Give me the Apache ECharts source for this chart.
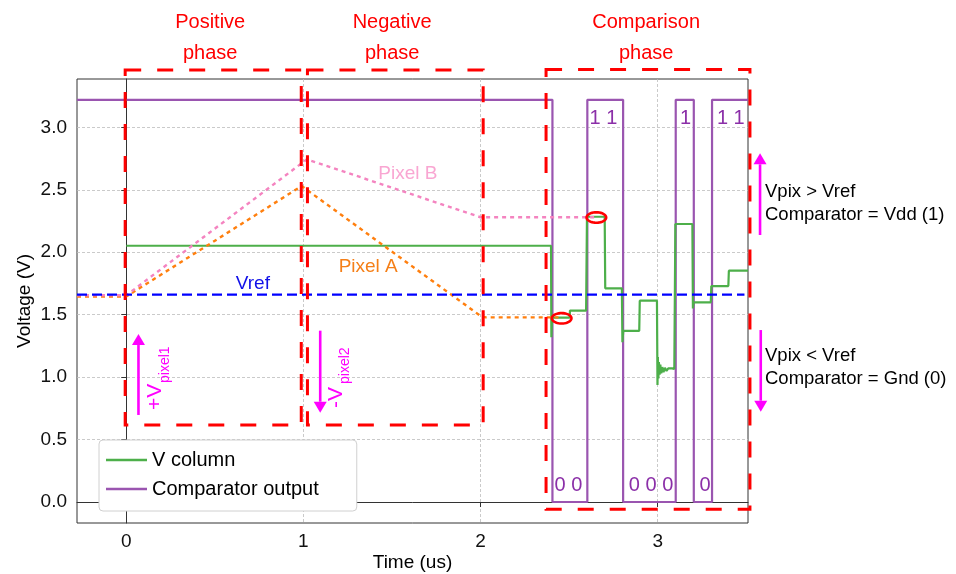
<!DOCTYPE html>
<html>
<head>
<meta charset="utf-8">
<script src="https://cdn.jsdelivr.net/npm/echarts@6.0.0/dist/echarts.min.js"></script>
<style>
html, body { margin: 0; padding: 0; background: #fff; }
#chart { width: 956px; height: 574px; }
</style>
</head>
<body>
<div id="chart"></div>
<script>
var FONT = "'Liberation Sans', Arial, sans-serif";

// axis ranges and ticks
var xRange = [-0.278, 3.51];
var yRange = [-0.168, 3.387];
var xTicks = [0, 1, 2, 3];
var yTicks = [0, 0.5, 1.0, 1.5, 2.0, 2.5, 3.0];

// traces: [time (us), voltage (V)]
var vColumn = [
  [0.0, 2.052], [2.398, 2.052], [2.400, 1.32], [2.404, 1.476], [2.503, 1.476],
  [2.505, 1.532], [2.596, 1.532], [2.601, 2.284], [2.701, 2.284], [2.704, 1.711],
  [2.798, 1.711], [2.801, 1.28], [2.806, 1.371], [2.896, 1.371], [2.899, 1.612],
  [2.996, 1.612], [2.999, 0.937], [3.001, 1.16], [3.004, 0.99], [3.007, 1.12],
  [3.011, 1.02], [3.015, 1.10], [3.020, 1.03], [3.026, 1.08], [3.033, 1.04],
  [3.041, 1.075], [3.050, 1.05], [3.060, 1.07], [3.070, 1.055], [3.082, 1.07],
  [3.094, 1.065], [3.100, 2.226], [3.196, 2.226], [3.199, 1.55], [3.203, 1.599],
  [3.300, 1.599], [3.303, 1.729], [3.399, 1.729], [3.402, 1.852], [3.51, 1.852]
];
var comparatorOut = [
  [-0.278, 3.22], [2.406, 3.22], [2.406, 0], [2.603, 0], [2.603, 3.22],
  [2.805, 3.22], [2.805, 0], [3.102, 0], [3.102, 3.22], [3.204, 3.22],
  [3.204, 0], [3.307, 0], [3.307, 3.22], [3.51, 3.22]
];
var pixelA = [[-0.278, 1.645], [0.0, 1.645], [0.99, 2.53], [2.0, 1.49], [2.03, 1.478], [2.44, 1.478]];
var pixelB = [[-0.278, 1.655], [0.0, 1.655], [1.02, 2.744], [2.0, 2.28], [2.66, 2.28]];
var vref = [[-0.278, 1.66], [3.49, 1.66]];

// annotations
var phaseBoxes = [[-0.006, 0.617, 0.988, 3.459], [1.023, 0.617, 2.015, 3.459], [2.370, -0.058, 3.521, 3.464]];
var phaseNames = ['Positive\nphase', 'Negative\nphase', 'Comparison\nphase'];
var phaseNamePos = [[0.474, 3.715], [1.501, 3.715], [2.935, 3.715]];
var traceLabels = ['Pixel B', 'Pixel A', 'Vref'];
var traceLabelPos = [[1.59, 2.63], [1.366, 1.884], [0.715, 1.745]];
var traceLabelColors = ['#f9a6d2', '#f57f17', '#1010e8'];
var bitLabels = ['0 0', '1 1', '0 0 0', '1', '0', '1 1'];
var bitLabelPos = [[2.496, 0.136], [2.694, 3.072], [2.963, 0.136], [3.158, 3.072], [3.268, 0.136], [3.413, 3.072]];
var sideNotes = ['Vpix > Vref\nComparator = Vdd (1)', 'Vpix < Vref\nComparator = Gnd (0)'];
var sideNotePos = [[3.606, 2.391], [3.606, 1.075]];
var arrows = [[0.069, 0.697, 1.345], [1.095, 1.372, 0.715], [3.578, 2.138, 2.792], [3.582, 1.377, 0.723]];
var deltaMain = ['+V', '-V'];
var deltaSub = ['pixel1', 'pixel2'];
var deltaPos = [[0.166, 0.737], [1.187, 0.753]];
var deltaSubShift = [27, 24];
var rings = [[2.458, 1.471], [2.654, 2.278]];

var myChart = echarts.init(document.getElementById('chart'));

function textLayer(positions, texts, style) {
  return {
    type: 'custom', coordinateSystem: 'cartesian2d', clip: false, silent: true, z: 10,
    data: positions,
    renderItem: function (params, api) {
      var p = api.coord([api.value(0), api.value(1)]);
      var s = Object.assign({
        text: texts[params.dataIndex], fontFamily: FONT,
        align: 'center', verticalAlign: 'middle'
      }, typeof style === 'function' ? style(params.dataIndex) : style);
      return { type: 'text', x: p[0], y: p[1], style: s };
    }
  };
}

var option = {
  animation: false,
  backgroundColor: '#fff',
  grid: {
    left: 77, right: 208, top: 79, bottom: 51,
    show: true, borderColor: '#333', borderWidth: 1,
    outerBoundsMode: 'none'
  },
  legend: {
    data: [{ name: 'V column', icon: 'rect' }, { name: 'Comparator output', icon: 'rect' }],
    orient: 'vertical', left: 99, top: 440,
    padding: [10, 38, 12, 7],
    itemWidth: 41, itemHeight: 2.4, itemGap: 9, itemTextGap: 15,
    backgroundColor: '#fff', borderColor: '#d0d0d0', borderWidth: 1, borderRadius: 4,
    textStyle: { fontFamily: FONT, fontSize: 20, color: '#000', lineHeight: 19 }
  },
  xAxis: {
    type: 'value', min: xRange[0], max: xRange[1], minInterval: 1, maxInterval: 1,
    name: 'Time (us)', nameLocation: 'middle', nameGap: 30, nameMoveOverlap: false,
    nameTextStyle: { fontFamily: FONT, fontSize: 19, color: '#000' },
    axisLine: { show: true, lineStyle: { color: '#333', width: 1 } },
    axisTick: { show: true, inside: false, length: 5, customValues: xTicks, lineStyle: { color: '#333' } },
    axisLabel: { customValues: xTicks, margin: 9, fontFamily: FONT, fontSize: 19, color: '#111',
      formatter: function (v) { return String(v); } },
    splitLine: { show: true, lineStyle: { color: '#bdbdbd', width: 0.8, type: [3, 2] } }
  },
  yAxis: {
    type: 'value', min: yRange[0], max: yRange[1], minInterval: 0.5, maxInterval: 0.5,
    name: 'Voltage (V)', nameLocation: 'middle', nameGap: 43, nameMoveOverlap: false,
    nameTextStyle: { fontFamily: FONT, fontSize: 19, color: '#000' },
    axisLine: { show: true, lineStyle: { color: '#333', width: 1 } },
    axisTick: { show: true, inside: false, length: 5, customValues: yTicks, lineStyle: { color: '#333' } },
    axisLabel: { customValues: yTicks, margin: 10, fontFamily: FONT, fontSize: 19, color: '#111',
      formatter: function (v) { return v.toFixed(1); } },
    splitLine: { show: true, lineStyle: { color: '#bdbdbd', width: 0.8, type: [3, 2] } }
  },
  series: [
    {
      name: 'Comparator output', type: 'line', data: comparatorOut,
      symbol: 'none', z: 2,
      lineStyle: { color: '#9a55b0', width: 2.2 }, itemStyle: { color: '#9a55b0' }
    },
    {
      name: 'V column', type: 'line', data: vColumn,
      symbol: 'none', z: 3,
      lineStyle: { color: '#4daf4a', width: 2.2 }, itemStyle: { color: '#4daf4a' }
    },
    {
      name: 'Pixel A', type: 'line', data: pixelA, symbol: 'none', z: 4,
      lineStyle: { color: '#ff7f0e', width: 2.4, type: [4, 4] }
    },
    {
      name: 'Pixel B', type: 'line', data: pixelB, symbol: 'none', z: 4,
      lineStyle: { color: '#f484c0', width: 2.4, type: [4, 4] }
    },
    {
      name: 'Vref', type: 'line', data: vref, symbol: 'none', z: 4,
      lineStyle: { color: '#0000ff', width: 2.2, type: [10, 5] }
    },
    {
      // phase boxes
      type: 'custom', coordinateSystem: 'cartesian2d', clip: false, silent: true, z: 8,
      data: phaseBoxes,
      renderItem: function (params, api) {
        var a = api.coord([api.value(0), api.value(3)]);
        var b = api.coord([api.value(2), api.value(1)]);
        return {
          type: 'rect',
          shape: { x: a[0], y: a[1], width: b[0] - a[0], height: b[1] - a[1] },
          style: { fill: 'none', stroke: '#ff0000', lineWidth: 3, lineDash: [16, 16] }
        };
      }
    },
    {
      // red rings around the sampled values
      type: 'custom', coordinateSystem: 'cartesian2d', clip: false, silent: true, z: 9,
      data: rings,
      renderItem: function (params, api) {
        var c = api.coord([api.value(0), api.value(1)]);
        var pts = [];
        for (var i = 0; i < 40; i++) {
          var t = i / 40 * Math.PI * 2;
          pts.push([c[0] + 9.8 * Math.cos(t), c[1] + 5.2 * Math.sin(t)]);
        }
        return { type: 'polygon', shape: { points: pts },
          style: { fill: 'none', stroke: '#ff0000', lineWidth: 2.6 } };
      }
    },
    {
      // magenta arrows
      type: 'custom', coordinateSystem: 'cartesian2d', clip: false, silent: true, z: 9,
      data: arrows,
      renderItem: function (params, api) {
        var s = api.coord([api.value(0), api.value(1)]);
        var e = api.coord([api.value(0), api.value(2)]);
        var dir = e[1] > s[1] ? 1 : -1;
        var headLen = 11, half = 6.5;
        var baseY = e[1] - dir * headLen;
        return {
          type: 'group',
          children: [
            { type: 'line', shape: { x1: s[0], y1: s[1], x2: e[0], y2: baseY },
              style: { stroke: '#ff00ff', lineWidth: 2.6 } },
            { type: 'polygon', shape: { points: [[e[0], e[1]], [e[0] - half, baseY], [e[0] + half, baseY]] },
              style: { fill: '#ff00ff' } }
          ]
        };
      }
    },
    {
      // rotated +V_pixel1 / -V_pixel2 labels
      type: 'custom', coordinateSystem: 'cartesian2d', clip: false, silent: true, z: 10,
      data: deltaPos,
      renderItem: function (params, api) {
        var p = api.coord([api.value(0), api.value(1)]);
        var i = params.dataIndex;
        return {
          type: 'group', x: p[0], y: p[1], rotation: Math.PI / 2,
          children: [
            { type: 'text', x: 0, y: 0, style: { text: deltaMain[i], fontFamily: FONT, fontSize: 21,
              fill: '#ff00ff', align: 'left', verticalAlign: 'middle' } },
            { type: 'text', x: deltaSubShift[i], y: 9, style: { text: deltaSub[i], fontFamily: FONT, fontSize: 14,
              fill: '#ff00ff', align: 'left', verticalAlign: 'middle' } }
          ]
        };
      }
    },
    textLayer(phaseNamePos, phaseNames, { fontSize: 20, fill: '#ff0000', lineHeight: 31 }),
    textLayer(traceLabelPos, traceLabels, function (i) { return { fontSize: 19, fill: traceLabelColors[i] }; }),
    textLayer(bitLabelPos, bitLabels, { fontSize: 20, fill: '#8b2fa8' }),
    textLayer(sideNotePos, sideNotes, { fontSize: 18.5, fill: '#000', align: 'left', lineHeight: 23.3 })
  ]
};

myChart.setOption(option);
</script>
</body>
</html>
